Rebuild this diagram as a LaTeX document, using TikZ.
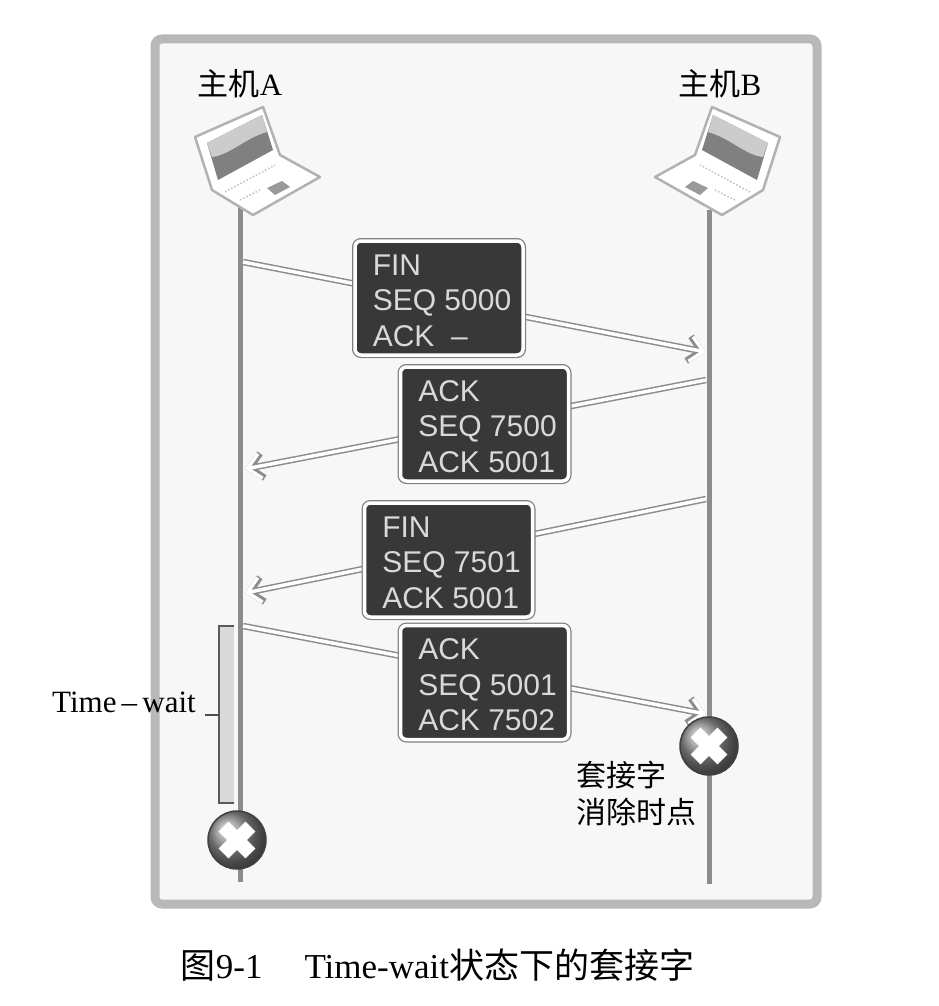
\documentclass[tikz,border=0pt]{standalone}
\usepackage{fontspec}
\setmainfont{Liberation Serif}
\setsansfont{Liberation Sans}
\newfontfamily\cjk{Noto Sans CJK SC}
\usetikzlibrary{arrows.meta,positioning,calc,shadings}
\definecolor{framegray}{gray}{0.72}
\definecolor{boxdark}{gray}{0.22}
\definecolor{boxtext}{gray}{0.85}
\definecolor{linegray}{gray}{0.55}
\newcommand{\msgtext}[3]{\rule{0pt}{26pt}\hspace*{6pt}#1\\\hspace*{6pt}#2\\\hspace*{6pt}#3}
\tikzset{
	hostline/.style={draw=linegray,line width=5pt},
	msgbox/.style={draw=white,fill=boxdark,line width=3.5pt,rounded corners=6pt,
		preaction={draw=black!50,line width=6pt},
		minimum width=168pt,minimum height=114pt,inner sep=0pt,
		align=left,text=boxtext,font=\fontsize{30}{35.5}\selectfont\sffamily},
	msgarrow/.style={draw=white,line width=3.5pt,
		preaction={draw=black!45,line width=6.5pt,-{Straight Barb[length=13pt,width=25pt]}},
		-{Straight Barb[length=13pt,width=25pt]}},
	hostname/.style={font=\fontsize{31}{31}\selectfont},
	closeball/.style={circle,minimum size=58pt,inner sep=0pt,draw=black!75,line width=1.5pt,
		ball color=black!45},
	laptop/.pic={
		\draw[black!30,fill=white,line width=2.5pt,line join=round] (-45,-73) -- (23,-103) -- (40,-55) -- (80,-33) -- (13,5) -- (-28,-20) -- cycle;
		\fill[black!50] (-33,-67) -- (22,-95) -- (33,-60) -- (-22,-30) -- cycle;
		\fill[black!20] (-33,-67) -- (22,-95) -- (27,-78) .. controls (5,-72) and (-10,-55) .. (-28,-53) -- cycle;
		\fill[black!40] (27,-22) -- (42,-29) -- (50,-23) -- (35,-15) -- cycle;
		\draw[black!25,dotted,line width=1.5pt] (-15,-18) -- (35,-45);
		\draw[black!25,dotted,line width=1.5pt] (0,-10) -- (20,-20);
	},
	xmark/.pic={
		\fill[white,rotate=45] (-19,-7) rectangle (19,7) (-7,-19) rectangle (7,19);
	}
}
\begin{document}
\begin{tikzpicture}[x=1pt,y=-1pt]
	\useasboundingbox (0,0) rectangle (938,1006);
	% frame
	\draw[framegray,fill=black!3,line width=9pt,rounded corners=7pt] (155,39) rectangle (817,904);
	% hosts
	\node [hostname] (hostalabel) at (240,84) {{\cjk 主机}A};
	\node [hostname] (hostblabel) at (720,84) {{\cjk 主机}B};
	\coordinate (atop) at (240,205);
	\coordinate (abottom) at (240,882);
	\coordinate (btop) at (709,210);
	\coordinate (bbottom) at (709,884);
	\draw[hostline] (atop) -- (abottom);
	\draw[hostline] (btop) -- (bbottom);
	\pic at (240,210) {laptop};
	\pic[xscale=-1] at (735,210) {laptop};
	% time-wait bar
	\coordinate (waittop) at (234,626);
	\coordinate (waitbottom) at (234,803);
	\draw[black!65,fill=black!15,line width=1.2pt] (waittop) -- (219,626) -- (219,803) -- (waitbottom);
	\node [font=\fontsize{31}{31}\selectfont] (waitlabel) at (124,702) {Time\,\textendash\,wait};
	\coordinate (waitleader) at (205,715);
	\draw[black!70,line width=1.2pt] (waitleader) -- (219,715);
	% messages
	\coordinate (a1) at (243,262);
	\coordinate (b1) at (706,352);
	\coordinate (b2) at (706,380);
	\coordinate (a2) at (245,469);
	\coordinate (b3) at (706,499);
	\coordinate (a3) at (245,593);
	\coordinate (a4) at (243,626);
	\coordinate (b4) at (706,714);
	\draw[msgarrow] (a1) -- (b1);
	\draw[msgarrow] (b2) -- (a2);
	\draw[msgarrow] (b3) -- (a3);
	\draw[msgarrow] (a4) -- (b4);
	\node [msgbox] (fina) at (439,298) {\msgtext{FIN}{SEQ 5000}{ACK\ \ \textendash}};
	\node [msgbox] (ackb) at (484.5,424) {\msgtext{ACK}{SEQ 7500}{ACK 5001}};
	\node [msgbox] (finb) at (448.5,560) {\msgtext{FIN}{SEQ 7501}{ACK 5001}};
	\node [msgbox] (acka) at (484.5,682.5) {\msgtext{ACK}{SEQ 5001}{ACK 7502}};
	% socket closed
	\node [closeball] (closea) at (237,840) {};
	\node [closeball] (closeb) at (709,746) {};
	\pic at (closea) {xmark};
	\pic at (closeb) {xmark};
	\node [font=\fontsize{30}{37}\selectfont\cjk,align=left] (closelabel) at (636,793) {套接字\\消除时点};
	% caption
	\node [font=\fontsize{35}{35}\selectfont] (caption) at (437.5,965) {{\cjk 图}9-1\hspace{42pt}Time-wait{\cjk 状态下的套接字}};
\end{tikzpicture}
\end{document}
